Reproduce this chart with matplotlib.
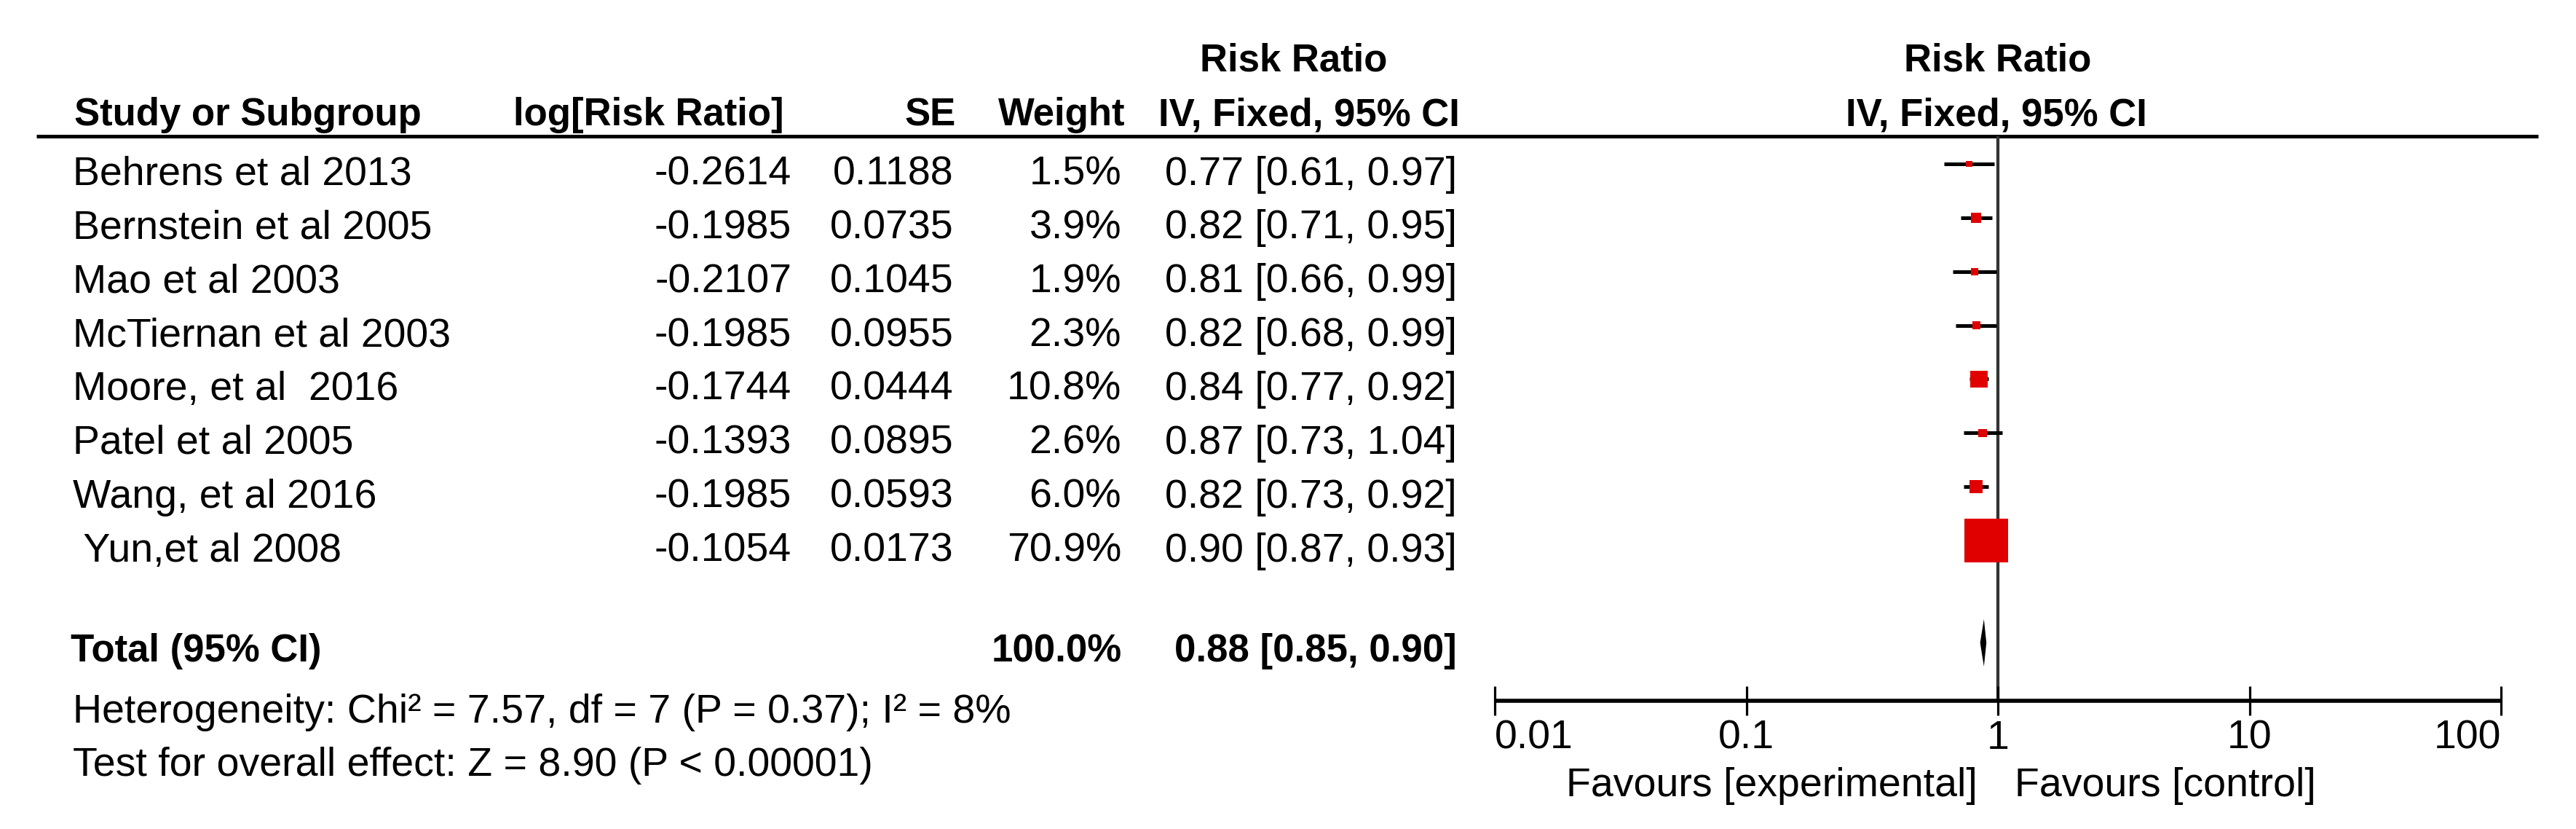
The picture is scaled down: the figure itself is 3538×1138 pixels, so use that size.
import matplotlib
matplotlib.use("Agg")
import matplotlib.pyplot as plt
from matplotlib.transforms import blended_transform_factory
from matplotlib.patches import Polygon

# ---------------- data ----------------
studies = ["Behrens et al 2013", "Bernstein et al 2005", "Mao et al 2003",
           "McTiernan et al 2003", "Moore, et al  2016", "Patel et al 2005",
           "Wang, et al 2016", " Yun,et al 2008"]
log_rr = [-0.2614, -0.1985, -0.2107, -0.1985, -0.1744, -0.1393, -0.1985, -0.1054]
se = [0.1188, 0.0735, 0.1045, 0.0955, 0.0444, 0.0895, 0.0593, 0.0173]
weight = [1.5, 3.9, 1.9, 2.3, 10.8, 2.6, 6.0, 70.9]
rr = [0.77, 0.82, 0.81, 0.82, 0.84, 0.87, 0.82, 0.90]
ci_lo = [0.61, 0.71, 0.66, 0.68, 0.77, 0.73, 0.73, 0.87]
ci_hi = [0.97, 0.95, 0.99, 0.99, 0.92, 1.04, 0.92, 0.93]
total_weight = 100.0
total_rr, total_lo, total_hi = 0.88, 0.85, 0.90
heterogeneity = "Heterogeneity: Chi\u00b2 = 7.57, df = 7 (P = 0.37); I\u00b2 = 8%"
overall = "Test for overall effect: Z = 8.90 (P < 0.00001)"
x_ticks = [0.01, 0.1, 1, 10, 100]
x_tick_labels = ["0.01", "0.1", "1", "10", "100"]
favours_left = "Favours [experimental]"
favours_right = "Favours [control]"

# ---------------- layout ----------------
W, H = 3538, 1138
DPI = 100
FONT = "Liberation Sans"
FS = 40
FSB = 38
RED = "#E00000"

fig = plt.figure(figsize=(W / DPI, H / DPI), dpi=DPI)
fig.patch.set_facecolor("white")

ax_t = fig.add_axes([0, 0, 1, 1])
ax_t.set_xlim(0, W)
ax_t.set_ylim(H, 0)
ax_t.axis("off")

row0_px, row_dy = 225.0, 73.86
def row_px(r):
    return row0_px + row_dy * r
BASE_OFF = 28.5

def txt(x, y, s, ha="left", bold=False, **kw):
    ax_t.text(x, y, s, ha=ha, va="baseline", family=FONT,
              fontsize=FSB if bold else FS,
              fontweight="bold" if bold else "normal", color="black", **kw)

# headers
txt(1777, 97, "Risk Ratio", ha="center", bold=True)
txt(2744, 97, "Risk Ratio", ha="center", bold=True)
txt(102, 172, "Study or Subgroup", bold=True)
txt(1077, 172, "log[Risk Ratio]", ha="right", bold=True)
txt(1313, 172, "SE", ha="right", bold=True)
txt(1545, 172, "Weight", ha="right", bold=True)
txt(2005, 172, "IV, Fixed, 95% CI", ha="right", bold=True)
txt(2742, 172, "IV, Fixed, 95% CI", ha="center", bold=True)
ax_t.plot([50, 3486], [187, 187], color="black", lw=3.6, solid_capstyle="butt")

# study rows
for i, name in enumerate(studies):
    yb = row_px(i) + BASE_OFF
    txt(100, yb, name)
    txt(1087, yb, f"{log_rr[i]:.4f}", ha="right")
    txt(1310, yb, f"{se[i]:.4f}", ha="right")
    txt(1540, yb, f"{weight[i]:.1f}%", ha="right")
    txt(2001, yb, f"{rr[i]:.2f} [{ci_lo[i]:.2f}, {ci_hi[i]:.2f}]", ha="right")

# total row
total_row = 8.9
txt(97, 908, "Total (95% CI)", bold=True)
txt(1541, 908, f"{total_weight:.1f}%", ha="right", bold=True)
txt(2001, 908, f"{total_rr:.2f} [{total_lo:.2f}, {total_hi:.2f}]", ha="right", bold=True)

txt(100, 992, heterogeneity)
txt(100, 1065, overall)

# ---------------- forest axes ----------------
x_left, x_right = 2053, 3435
y_top, y_bot = 187, 962
ax_f = fig.add_axes([x_left / W, 1 - y_bot / H, (x_right - x_left) / W, (y_bot - y_top) / H])
ax_f.patch.set_visible(False)
ax_f.set_xscale("log")
ax_f.set_xlim(0.01, 100)
ax_f.set_ylim((y_bot - row0_px) / row_dy, (y_top - row0_px) / row_dy)
for sp in ["top", "left", "right"]:
    ax_f.spines[sp].set_visible(False)
ax_f.spines["bottom"].set_linewidth(4)
ax_f.spines["bottom"].set_capstyle("butt")
ax_f.set_yticks([])
ax_f.set_xticks(x_ticks)
ax_f.minorticks_off()
ax_f.tick_params(axis="x", direction="inout", length=29, width=2.3,
                 labelbottom=False, color="black")

ax_f.axvline(1, color="#333333", lw=3.1, zorder=1)

rows = list(range(len(studies)))
ax_f.hlines(rows, ci_lo, ci_hi, color="black", lw=3.6, zorder=2)
ax_f.scatter(rr, rows, s=[26.3 * w for w in weight], marker="s",
             color=RED, linewidths=0, zorder=3)

h = 0.44
diamond = Polygon([(total_lo, total_row), (total_rr, total_row - h),
                   (total_hi, total_row), (total_rr, total_row + h)],
                  closed=True, facecolor="black", edgecolor="none", zorder=3)
ax_f.add_patch(diamond)

# tick labels
tr = blended_transform_factory(ax_f.transData, ax_t.transData)
for k, (xv, lab) in enumerate(zip(x_ticks, x_tick_labels)):
    ha = "left" if k == 0 else ("right" if k == len(x_ticks) - 1 else "center")
    ax_t.text(xv, 1028, lab, transform=tr, ha=ha, va="baseline",
              family=FONT, fontsize=FS, color="black")

txt(2716, 1093, favours_left, ha="right")
txt(2767, 1093, favours_right, ha="left")

fig.savefig("out.png", dpi=DPI, facecolor="white")
